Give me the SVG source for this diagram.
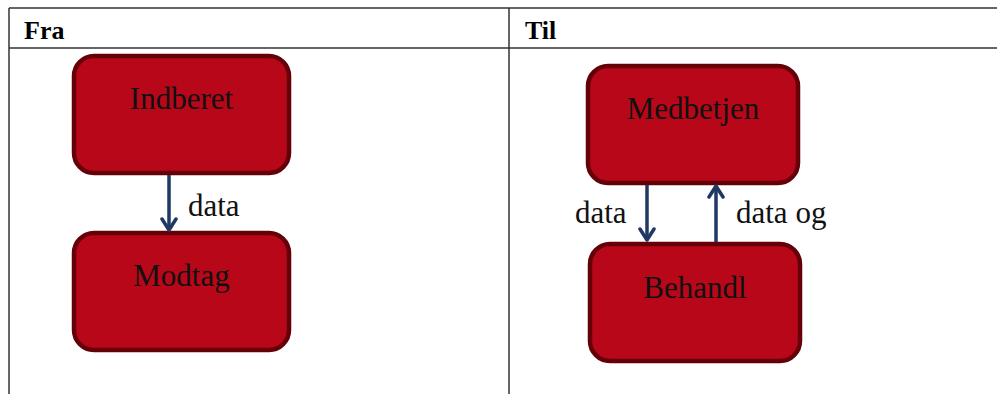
<svg xmlns="http://www.w3.org/2000/svg" width="997" height="394" viewBox="0 0 997 394">
  <style>
    .grid { stroke: #333; stroke-width: 1.5; fill: none; }
    .head { font-family: "Liberation Serif", serif; font-weight: bold; font-size: 26px; fill: #000; }
    .box { fill: #B80718; stroke: #650009; stroke-width: 4.5; }
    .name { font-family: "Liberation Serif", serif; font-size: 31px; fill: #111; text-anchor: middle; }
    .lbl { font-family: "Liberation Serif", serif; font-size: 31px; fill: #111; }
    .edge { stroke: #1F3864; stroke-width: 3.5; fill: none; }
  </style>
  <defs>
    <marker id="chev" viewBox="0 0 16 18" refX="14" refY="9" markerWidth="16" markerHeight="18" markerUnits="userSpaceOnUse" orient="auto">
      <path d="M3,2 L14,9 L3,16" fill="none" stroke="#1F3864" stroke-width="3.5" stroke-linecap="round" stroke-linejoin="round"/>
    </marker>
  </defs>

  <!-- table frame -->
  <g id="table">
    <line class="grid" x1="9" y1="8" x2="997" y2="8"/>
    <line class="grid" x1="9" y1="48" x2="997" y2="48"/>
    <line class="grid" x1="9" y1="8" x2="9" y2="394"/>
    <line class="grid" x1="509" y1="8" x2="509" y2="394"/>
    <text class="head" x="24" y="39">Fra</text>
    <text class="head" x="525" y="39">Til</text>
  </g>

  <!-- left column -->
  <g id="indberet">
    <rect class="box" x="74" y="56" width="215" height="117" rx="20"/>
    <text class="name" x="181.5" y="109">Indberet</text>
  </g>
  <g id="modtag">
    <rect class="box" x="74" y="233" width="215" height="117" rx="20"/>
    <text class="name" x="181.5" y="286">Modtag</text>
  </g>

  <!-- right column -->
  <g id="medbetjen">
    <rect class="box" x="588" y="66" width="210" height="117" rx="20"/>
    <text class="name" x="693" y="119">Medbetjen</text>
  </g>
  <g id="behandl">
    <rect class="box" x="590" y="244" width="210" height="117" rx="20"/>
    <text class="name" x="695" y="298">Behandl</text>
  </g>

  <!-- connectors -->
  <g id="connectors">
    <line class="edge" x1="169" y1="175" x2="169" y2="230" marker-end="url(#chev)"/>
    <text class="lbl" x="188" y="216">data</text>
    <line class="edge" x1="647" y1="185" x2="647" y2="240" marker-end="url(#chev)"/>
    <text class="lbl" x="575" y="223">data</text>
    <line class="edge" x1="716" y1="242" x2="716" y2="186" marker-end="url(#chev)"/>
    <text class="lbl" x="736" y="223">data og</text>
  </g>
</svg>
